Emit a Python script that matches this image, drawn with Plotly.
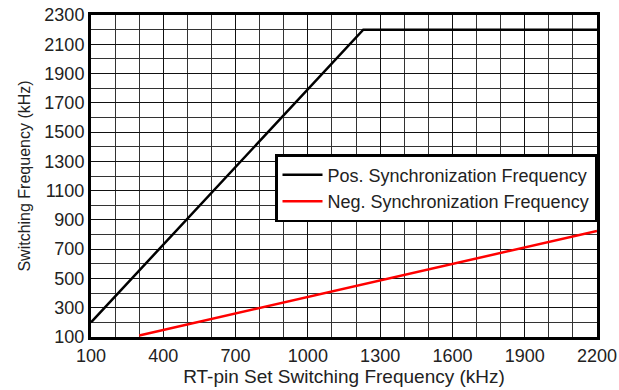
import plotly.graph_objects as go

# Data
pos_x = [100, 1230, 2200]
pos_y = [200, 2200, 2200]
neg_x = [300, 2200]
neg_y = [110, 825]

x_ticks = [100, 400, 700, 1000, 1300, 1600, 1900, 2200]
y_ticks = [100, 300, 500, 700, 900, 1100, 1300, 1500, 1700, 1900, 2100, 2300]

FONT = "Arial, Liberation Sans, sans-serif"

fig = go.Figure()
fig.add_trace(go.Scatter(x=pos_x, y=pos_y, mode="lines",
                         line=dict(color="black", width=2.5),
                         name="Pos. Synchronization Frequency"))
fig.add_trace(go.Scatter(x=neg_x, y=neg_y, mode="lines",
                         line=dict(color="#ff0000", width=2.5),
                         name="Neg. Synchronization Frequency"))

axis_common = dict(
    showline=True, linecolor="black", linewidth=3, mirror=True,
    showgrid=True, gridcolor="#111111", gridwidth=1.2,
    ticks="", zeroline=False,
    tickfont=dict(family=FONT, size=18, color="#222"),
)

fig.update_xaxes(
    range=[100, 2200], tickvals=x_ticks,
    minor=dict(dtick=100, tick0=100, showgrid=True, gridcolor="#333333", gridwidth=1.2),
    title=dict(text="RT-pin Set Switching Frequency (kHz)",
               font=dict(family=FONT, size=19, color="#222"), standoff=5),
    **axis_common,
)
fig.update_yaxes(
    range=[100, 2300], tickvals=y_ticks,
    minor=dict(dtick=100, tick0=100, showgrid=True, gridcolor="#333333", gridwidth=1.2),
    title=dict(text="Switching Frequency (kHz)",
               font=dict(family=FONT, size=16, color="#222"), standoff=10),
    **axis_common,
)

fig.update_layout(
    width=619, height=390,
    margin=dict(l=91, r=22, t=15, b=53, autoexpand=False),
    plot_bgcolor="white", paper_bgcolor="white",
    legend=dict(x=1, xanchor="right", y=0.568, yanchor="top",
                bgcolor="white", bordercolor="black", borderwidth=2.5,
                font=dict(family=FONT, size=18, color="#222"),
                tracegroupgap=0, itemwidth=40),
)

fig.write_html("out.html")
